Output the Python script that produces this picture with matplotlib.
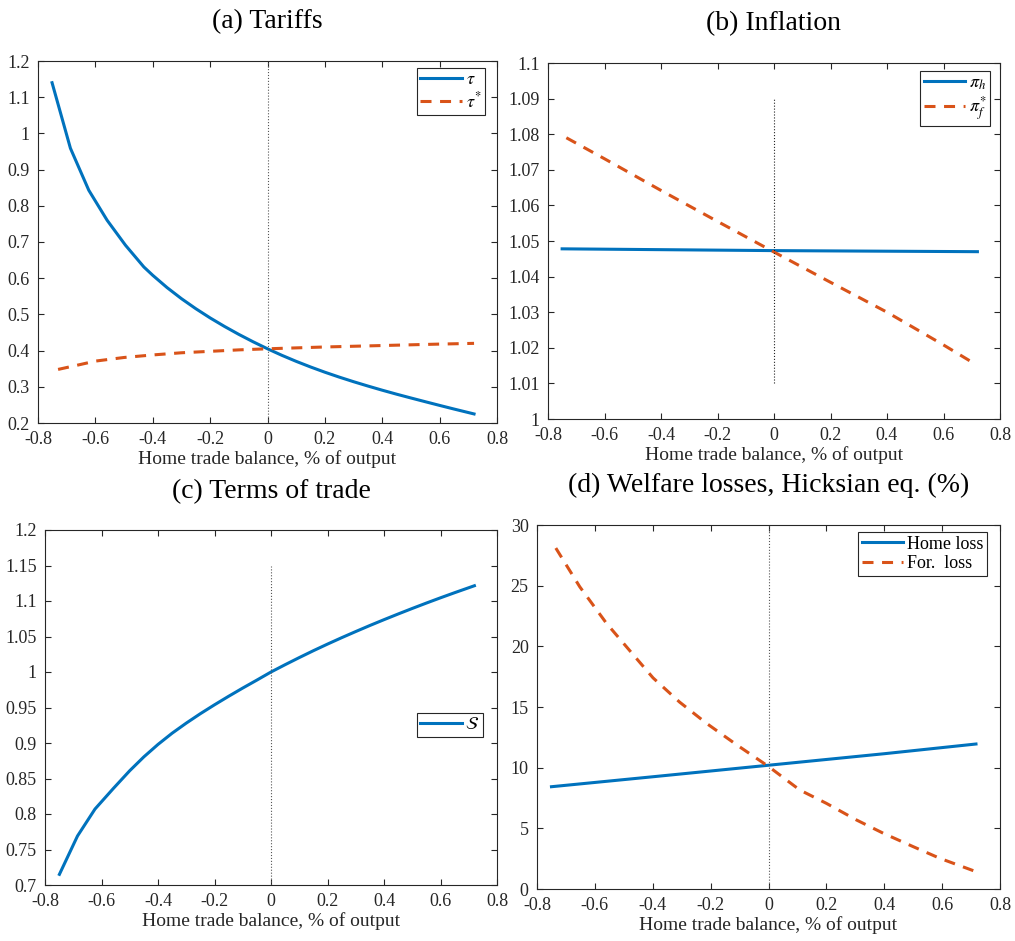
import matplotlib
matplotlib.use("Agg")
import matplotlib.pyplot as plt

plt.rcParams['font.family'] = ['Liberation Serif', 'DejaVu Serif']
plt.rcParams['mathtext.fontset'] = 'stix'

BLUE = '#0072BD'
ORANGE = '#D95319'

# (a) Tariffs
tau_x = [-0.751, -0.687, -0.623, -0.559, -0.495, -0.431, -0.4, -0.35, -0.3, -0.25, -0.2, -0.15, -0.1, -0.05,
         0.0, 0.05, 0.1, 0.15, 0.2, 0.25, 0.3, 0.35, 0.4, 0.45, 0.5, 0.55, 0.6, 0.65, 0.72]
tau = [1.14, 0.959, 0.843, 0.760, 0.691, 0.631, 0.608, 0.574, 0.5435, 0.5158, 0.4903, 0.4668, 0.4448, 0.4243,
       0.405, 0.387, 0.3703, 0.3548, 0.3403, 0.3268, 0.3141, 0.3021, 0.2906, 0.2796, 0.2691, 0.2588, 0.2486,
       0.2386, 0.225]
taus_x = [-0.73, -0.65, -0.6, -0.5, -0.4, -0.3, -0.2, -0.1, 0.0, 0.2, 0.4, 0.6, 0.72]
taus = [0.348, 0.362, 0.371, 0.381, 0.388, 0.394, 0.398, 0.402, 0.405, 0.410, 0.414, 0.418, 0.420]

# (b) Inflation
pih_x = [-0.75, 0.0, 0.72]
pih = [1.0478, 1.0473, 1.0470]
pif_x = [-0.735, -0.6, -0.4, -0.2, 0.0, 0.2, 0.4, 0.6, 0.717]
pif = [1.0790, 1.0731, 1.0642, 1.0555, 1.0469, 1.0384, 1.0300, 1.0208, 1.0152]

# (c) Terms of trade
s_x = [-0.749, -0.685, -0.623, -0.558, -0.5, -0.45, -0.4, -0.35, -0.3, -0.25, -0.2, -0.15, -0.1, -0.05,
       0.0, 0.05, 0.1, 0.15, 0.2, 0.25, 0.3, 0.35, 0.4, 0.45, 0.5, 0.55, 0.6, 0.65, 0.72]
s = [0.715, 0.769, 0.807, 0.836, 0.861, 0.8805, 0.898, 0.9138, 0.928, 0.9413, 0.9538, 0.9658, 0.9774, 0.9886,
     1.0, 1.0103, 1.0203, 1.0300, 1.0393, 1.0483, 1.0570, 1.0655, 1.0737, 1.0817, 1.0895, 1.0971, 1.1045,
     1.1117, 1.1215]

# (d) Welfare losses
home_x = [-0.75, -0.4, 0.0, 0.4, 0.717]
home = [8.43, 9.25, 10.2, 11.15, 11.95]
for_x = [-0.735, -0.652, -0.560, -0.485, -0.399, -0.307, -0.214, -0.111, 0.0, 0.108, 0.2, 0.304, 0.397, 0.5, 0.592, 0.717]
forl = [28.1, 24.9, 21.9, 19.8, 17.4, 15.4, 13.65, 11.9, 10.1, 8.16, 7.06, 5.69, 4.59, 3.49, 2.53, 1.43]

W, H = 1015, 941
fig = plt.figure(figsize=(W / 100, H / 100), dpi=100)
DASH = (0, (3.6, 2.8))


def make_ax(l, r, t, b):
    ax = fig.add_axes([l / W, 1 - b / H, (r - l) / W, (b - t) / H])
    ax.tick_params(direction='in', top=True, right=True, length=4, labelsize=13, pad=6,
                   color='#262626', labelcolor='#262626', width=0.8)
    for sp in ax.spines.values():
        sp.set_color('#262626')
        sp.set_linewidth(0.8)
    ax.set_xlim(-0.8, 0.8)
    ax.set_xticks([-0.8, -0.6, -0.4, -0.2, 0, 0.2, 0.4, 0.6, 0.8])
    ax.set_xticklabels(['-0.8', '-0.6', '-0.4', '-0.2', '0', '0.2', '0.4', '0.6', '0.8'])
    ax.set_xlabel('Home trade balance, % of output', fontsize=14, color='#262626', labelpad=1.5)
    return ax


def title(ax, txt, y):
    pos = ax.get_position()
    fig.text(pos.x0 + pos.width / 2, 1 - y / H, txt, ha='center', va='center', fontsize=20)


def leg(ax, loc, anchor):
    l = ax.legend(loc=loc, bbox_to_anchor=anchor, borderaxespad=0, fontsize=13, fancybox=False,
                  edgecolor='#262626', framealpha=1, handlelength=2.3, handletextpad=0.2,
                  borderpad=0.2, labelspacing=0.15)
    l.get_frame().set_linewidth(0.8)
    return l


def fmt(vals):
    return ['%g' % v for v in vals]


# (a)
ax = make_ax(38, 497, 61, 423)
ax.plot(tau_x, tau, color=BLUE, lw=2.2, label=r'$\tau$')
ax.plot(taus_x, taus, color=ORANGE, lw=2.2, ls=DASH, label=r'$\tau^{*}$')
ax.plot([0, 0], [0.2, 1.2], color='#555555', lw=0.8, ls=':')
ax.set_ylim(0.2, 1.2)
yt = [0.2, 0.3, 0.4, 0.5, 0.6, 0.7, 0.8, 0.9, 1.0, 1.1, 1.2]
ax.set_yticks(yt)
ax.set_yticklabels(fmt(yt))
leg(ax, 'upper right', (0.974, 0.981))
title(ax, '(a) Tariffs', 22)

# (b)
ax = make_ax(548, 1000, 63, 419)
ax.plot(pih_x, pih, color=BLUE, lw=2.2, label=r'$\pi_h$')
ax.plot(pif_x, pif, color=ORANGE, lw=2.2, ls=DASH, label=r'$\pi_f^{*}$')
ax.plot([0, 0], [1.01, 1.09], color='#222222', lw=0.8, ls=':')
ax.set_ylim(1.0, 1.1)
yt = [1.0, 1.01, 1.02, 1.03, 1.04, 1.05, 1.06, 1.07, 1.08, 1.09, 1.1]
ax.set_yticks(yt)
ax.set_yticklabels(fmt(yt))
leg(ax, 'upper right', (0.978, 0.978))
title(ax, '(b) Inflation', 24)

# (c)
ax = make_ax(45, 497, 530, 885)
ax.plot(s_x, s, color=BLUE, lw=2.2, label=r'$\mathcal{S}$')
ax.plot([0, 0], [0.7, 1.15], color='#555555', lw=0.8, ls=':')
ax.set_ylim(0.7, 1.2)
yt = [0.7, 0.75, 0.8, 0.85, 0.9, 0.95, 1.0, 1.05, 1.1, 1.15, 1.2]
ax.set_yticks(yt)
ax.set_yticklabels(fmt(yt))
leg(ax, 'center right', (0.969, 0.451))
title(ax, '(c) Terms of trade', 492)

# (d)
ax = make_ax(537, 1000, 525, 889)
ax.plot(home_x, home, color=BLUE, lw=2.2, label='Home loss')
ax.plot(for_x, forl, color=ORANGE, lw=2.2, ls=DASH, label='For.  loss')
ax.plot([0, 0], [0, 30], color='#555555', lw=0.8, ls=':')
ax.set_ylim(0, 30)
yt = [0, 5, 10, 15, 20, 25, 30]
ax.set_yticks(yt)
ax.set_yticklabels(fmt(yt))
leg(ax, 'upper right', (0.972, 0.981))
title(ax, '(d) Welfare losses, Hicksian eq. (%)', 485)

fig.savefig('out.png', dpi=100)
